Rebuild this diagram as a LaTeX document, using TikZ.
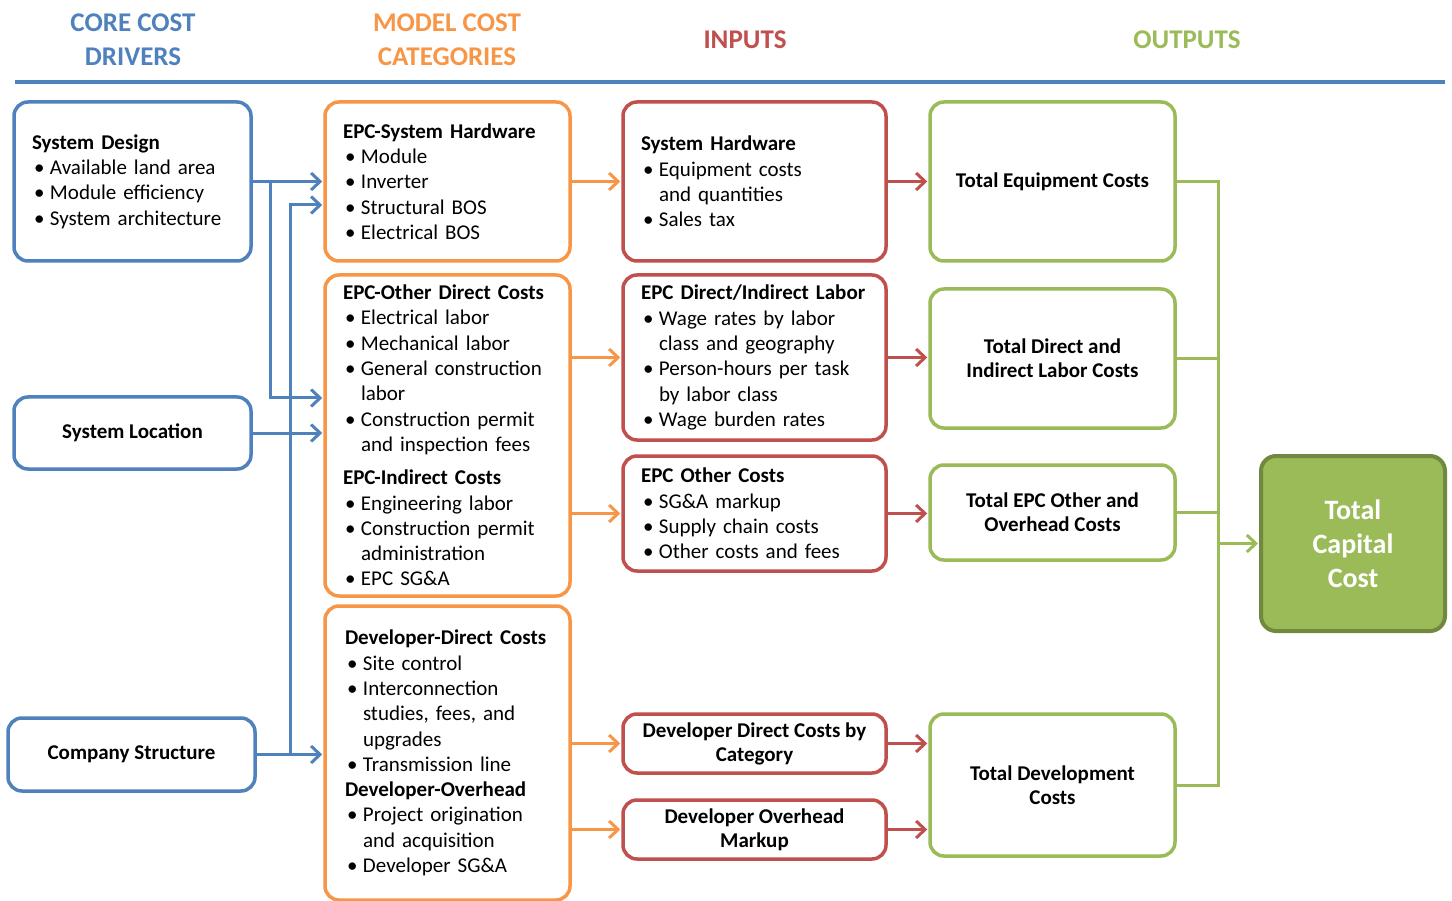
\documentclass[tikz,border=0pt]{standalone}
\usepackage{fontspec}
\setmainfont{Carlito}
\usetikzlibrary{arrows.meta}
\definecolor{cblue}{HTML}{4F81BD}
\definecolor{corange}{HTML}{F79646}
\definecolor{cred}{HTML}{C0504D}
\definecolor{cgreen}{HTML}{9BBB59}
\definecolor{cdgreen}{HTML}{71893F}
\newcommand{\bodyfont}{\fontsize{21}{25.3}\selectfont}
\newcommand{\bitem}{\makebox[18pt][l]{\hspace{2pt}\textbullet}}
\newcommand{\cont}{\hspace*{18pt}}
\tikzset{
  box/.style={draw, rounded corners=14pt, line width=3.5pt, fill=white, inner xsep=18pt, inner ysep=0pt, align=left, font=\bodyfont},
  cbox/.style={draw, rounded corners=14pt, line width=3.5pt, fill=white, inner sep=0pt, align=center, font=\fontsize{21}{24}\selectfont\bfseries},
  hdr/.style={font=\fontsize{27}{34}\selectfont\bfseries, align=center},
  tip/.style={-{Straight Barb[length=9pt,width=17pt]}, line width=3pt, shorten >=1pt},
  barrow/.style={tip, draw=cblue},
  oarrow/.style={tip, draw=corange},
  rarrow/.style={tip, draw=cred},
  garrow/.style={tip, draw=cgreen},
  gline/.style={draw=cgreen, line width=3pt},
}
\begin{document}
\begin{tikzpicture}[x=1pt,y=-1pt]
\useasboundingbox[fill=white] (0,0) rectangle (1452,901);
% headers
\node[hdr, text=cblue] (h1) at (133,40) {CORE COST\\DRIVERS};
\node[hdr, text=corange] (h2) at (447,40) {MODEL COST\\CATEGORIES};
\node[hdr, text=cred] (h3) at (745,40) {INPUTS};
\node[hdr, text=cgreen] (h4) at (1187,40) {OUTPUTS};
\coordinate (hl) at (15,82);
\coordinate (hr) at (1445,82);
\draw[cblue, line width=3.5pt] (hl) -- (hr);
% blue drivers
\node[box, draw=cblue, minimum width=237pt, minimum height=159pt, text width=201pt] (sd) at (132.5,181.5)
 {\textbf{System Design}\\\bitem Available land area\\\bitem Module efficiency\\\bitem System architecture};
\node[cbox, draw=cblue, minimum width=237pt, minimum height=72pt] (sl) at (132.5,433) {System Location};
\node[cbox, draw=cblue, minimum width=247pt, minimum height=73pt] (cs) at (131.5,754.5) {Company Structure};
% orange categories
\node[box, draw=corange, minimum width=245pt, minimum height=159pt, text width=209pt] (o1) at (447.5,181.5)
 {\textbf{EPC-System Hardware}\\\bitem Module\\\bitem Inverter\\\bitem Structural BOS\\\bitem Electrical BOS};
\node[box, draw=corange, minimum width=245pt, minimum height=321pt, text width=209pt] (o2) at (447.5,435.5)
 {\textbf{EPC-Other Direct Costs}\\\bitem Electrical labor\\\bitem Mechanical labor\\\bitem General construction\\\cont labor\\\bitem Construction permit\\\cont and inspection fees\\[8pt]
 \textbf{EPC-Indirect Costs}\\\bitem Engineering labor\\\bitem Construction permit\\\cont administration\\\bitem EPC SG\&A};
\node[box, draw=corange, minimum width=245pt, minimum height=294pt, text width=205pt, inner xsep=20pt] (o3) at (447.5,753)
 {\textbf{Developer-Direct Costs}\\\bitem Site control\\\bitem Interconnection\\\cont studies, fees, and\\\cont upgrades\\\bitem Transmission line\\
 \textbf{Developer-Overhead}\\\bitem Project origination\\\cont and acquisition\\\bitem Developer SG\&A};
% red inputs
\node[box, draw=cred, minimum width=263pt, minimum height=159pt, text width=227pt] (r1) at (754.5,181.5)
 {\textbf{System Hardware}\\\bitem Equipment costs\\\cont and quantities\\\bitem Sales tax};
\node[box, draw=cred, minimum width=263pt, minimum height=165pt, text width=227pt] (r2) at (754.5,357.5)
 {\textbf{EPC Direct/Indirect Labor}\\\bitem Wage rates by labor\\\cont class and geography\\\bitem Person-hours per task\\\cont by labor class\\\bitem Wage burden rates};
\node[box, draw=cred, minimum width=263pt, minimum height=115pt, text width=227pt] (r3) at (754.5,513.5)
 {\textbf{EPC Other Costs}\\\bitem SG\&A markup\\\bitem Supply chain costs\\\bitem Other costs and fees};
\node[cbox, draw=cred, minimum width=263pt, minimum height=59pt] (r4) at (754.5,743.5) {Developer Direct Costs by\\Category};
\node[cbox, draw=cred, minimum width=263pt, minimum height=59pt] (r5) at (754.5,829.5) {Developer Overhead\\Markup};
% green outputs
\node[cbox, draw=cgreen, minimum width=245pt, minimum height=159pt] (g1) at (1052.5,181.5) {Total Equipment Costs};
\node[cbox, draw=cgreen, minimum width=245pt, minimum height=139pt] (g2) at (1052.5,358.5) {Total Direct and\\Indirect Labor Costs};
\node[cbox, draw=cgreen, minimum width=245pt, minimum height=95pt] (g3) at (1052.5,512.5) {Total EPC Other and\\Overhead Costs};
\node[cbox, draw=cgreen, minimum width=245pt, minimum height=142pt] (g4) at (1052.5,785) {Total Development\\Costs};
\node[draw=cdgreen, fill=cgreen, rounded corners=15pt, line width=4pt, minimum width=184pt, minimum height=175pt,
  text=white, align=center, font=\fontsize{28}{34}\selectfont\bfseries] (tc) at (1353,543.5) {Total\\Capital\\Cost};
% blue connectors
\coordinate (bx1) at (270,398);
\coordinate (bx2) at (290,205);
\draw[barrow] (sd.east) -- (o1.west |- sd.east);
\draw[barrow] (bx1 |- sd.east) |- (o2.west |- bx1);
\draw[barrow] (sl.east) -- (o2.west |- sl.east);
\draw[barrow] (cs.east) -- (o3.west |- cs.east);
\draw[barrow] (bx2 |- cs.east) |- (o1.west |- bx2);
% orange connectors
\draw[oarrow] (o1.east) -- (r1.west);
\draw[oarrow] (o2.east |- r2.west) -- (r2.west);
\draw[oarrow] (o2.east |- r3.west) -- (r3.west);
\draw[oarrow] (o3.east |- r4.west) -- (r4.west);
\draw[oarrow] (o3.east |- r5.west) -- (r5.west);
% red connectors
\draw[rarrow] (r1.east) -- (g1.west);
\draw[rarrow] (r2.east) -- (g2.west |- r2.east);
\draw[rarrow] (r3.east) -- (g3.west |- r3.east);
\draw[rarrow] (r4.east) -- (g4.west |- r4.east);
\draw[rarrow] (r5.east) -- (g4.west |- r5.east);
% green connectors
\coordinate (gb) at (1218,543.5);
\draw[gline] (g1.east) -| (gb |- g4.east) -- (g4.east);
\draw[gline] (g2.east) -- (gb |- g2.east);
\draw[gline] (g3.east) -- (gb |- g3.east);
\draw[garrow] (gb) -- (tc.west);
\end{tikzpicture}
\end{document}
